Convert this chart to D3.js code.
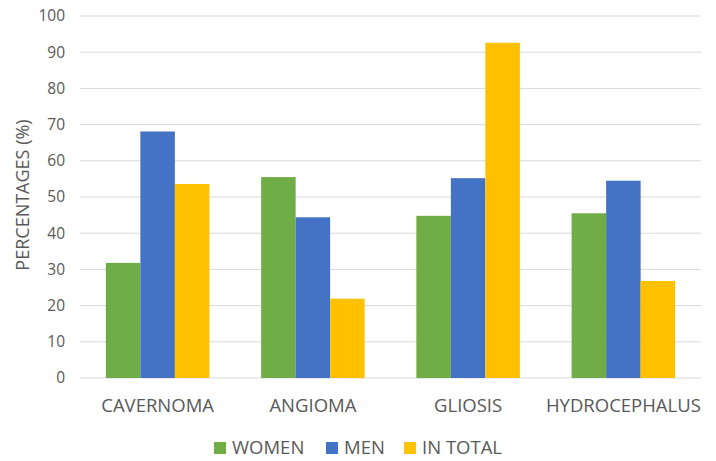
<!DOCTYPE html>
<html><head><meta charset="utf-8">
<script src="https://cdn.jsdelivr.net/npm/d3@7"></script>
<style>body{margin:0;background:#fff}text{font-family:"Open Sans",sans-serif;fill:#595959}</style>
</head><body><svg id="c" width="716" height="461"></svg>
<script>
const categories = ["CAVERNOMA","ANGIOMA","GLIOSIS","HYDROCEPHALUS"];
const seriesNames = ["WOMEN","MEN","IN TOTAL"];
const women = [31.8, 55.5, 44.8, 45.5];
const men = [68.1, 44.4, 55.2, 54.5];
const inTotal = [53.6, 21.9, 92.6, 26.8];
const yTicks = [0,10,20,30,40,50,60,70,80,90,100];
const colors = ["#70AD47","#4472C4","#FFC000"];
const series = [women, men, inTotal];

const svg = d3.select("#c");
const m = {l:80, r:15, t:16, b:83};
const W = 716, H = 461;
const x = d3.scaleBand().domain(categories).range([m.l, W-m.r]).paddingInner(1.5/4.5).paddingOuter(0.75/4.5);
const x1 = d3.scaleBand().domain(seriesNames).range([0, x.bandwidth()]);
const y = d3.scaleLinear().domain([0,100]).range([H-m.b, m.t]);

const g = svg.append("g");
g.selectAll("line.grid").data(yTicks).join("line")
  .attr("x1", m.l).attr("x2", W-m.r)
  .attr("y1", d=>y(d)).attr("y2", d=>y(d))
  .attr("stroke","#d9d9d9").attr("stroke-width",1);

const yAxis = d3.axisLeft(y).tickValues(yTicks).tickSize(0).tickPadding(0);
const ya = svg.append("g").attr("transform",`translate(${m.l-15},0)`).call(yAxis);
ya.select(".domain").remove();
ya.selectAll("text").style("font-size","15.5px").attr("fill","#595959").style("font-family","'Open Sans',sans-serif");

categories.forEach((c,i)=>{
  seriesNames.forEach((s,j)=>{
    svg.append("rect")
      .attr("x", x(c)+x1(s)).attr("width", x1.bandwidth())
      .attr("y", y(series[j][i])).attr("height", y(0)-y(series[j][i]))
      .attr("fill", colors[j]);
  });
});

const xAxis = d3.axisBottom(x).tickSize(0).tickPadding(0);
const xa = svg.append("g").attr("transform",`translate(0,${H-m.b})`).call(xAxis);
xa.select(".domain").remove();
xa.selectAll("text").attr("dy",null).attr("y",34).style("font-size","18.5px").attr("fill","#595959").style("font-family","'Open Sans',sans-serif");

svg.append("text").attr("transform","translate(29,195) rotate(-90)")
  .attr("text-anchor","middle").style("font-size","18px").text("PERCENTAGES (%)");

const legX = [214, 326, 404];
seriesNames.forEach((s,j)=>{
  svg.append("rect").attr("x",legX[j]).attr("y",442).attr("width",12).attr("height",12).attr("fill",colors[j]);
  svg.append("text").attr("x",legX[j]+18).attr("y",454).style("font-size","18.5px").text(s);
});
</script></body></html>
